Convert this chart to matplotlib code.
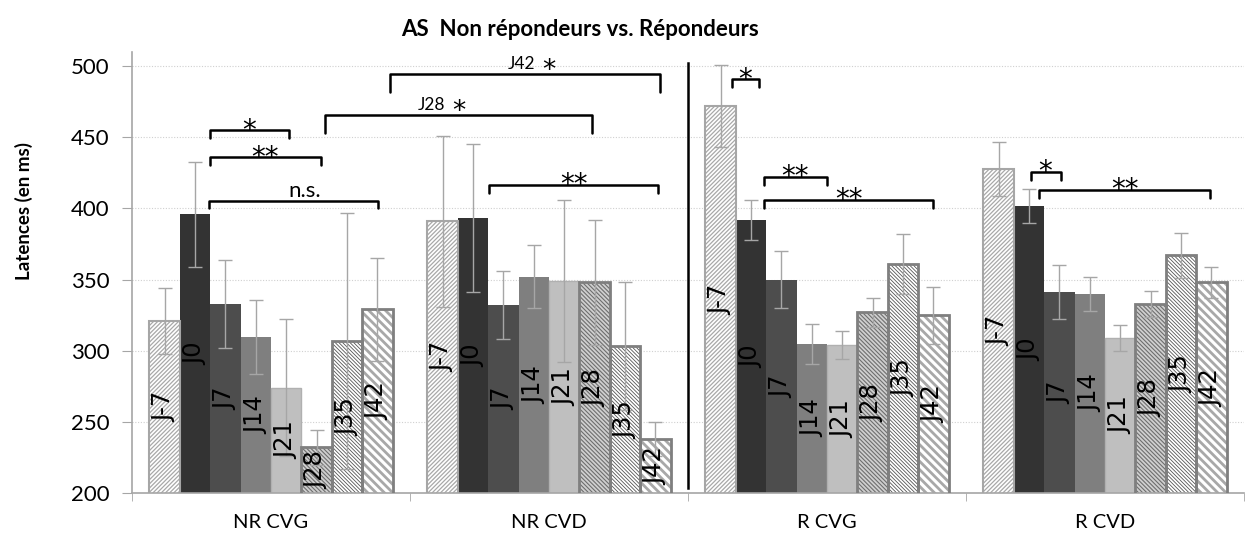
import matplotlib
matplotlib.use("Agg")
import matplotlib.pyplot as plt
import numpy as np

plt.rcParams['font.family'] = ['Lato', 'DejaVu Sans']

# ---- data ----
groups = ["NR CVG", "NR CVD", "R CVG", "R CVD"]
days = ["J-7", "J0", "J7", "J14", "J21", "J28", "J35", "J42"]

means_nr_cvg = [321, 396, 333, 310, 274, 232, 307, 329]
means_nr_cvd = [391, 393, 332, 352, 349, 348, 303, 238]
means_r_cvg = [472, 392, 350, 305, 304, 327, 361, 325]
means_r_cvd = [428, 402, 341, 340, 309, 333, 367, 348]

err_nr_cvg = [23, 37, 31, 26, 48, 12, 90, 36]
err_nr_cvd = [60, 52, 24, 22, 57, 44, 45, 12]
err_r_cvg = [29, 14, 20, 14, 10, 10, 21, 20]
err_r_cvd = [19, 12, 19, 12, 9, 9, 16, 11]

y_ticks = [200, 250, 300, 350, 400, 450, 500]

# significance brackets: start (group, position in bar widths), end, level, label
br_group_a = [0, 0, 0, 1, 2, 2, 2, 3, 3]
br_pos_a = [1.99, 1.99, 1.96, 2.03, 0.86, 1.92, 1.92, 1.55, 1.84]
br_pos_b = [4.59, 5.64, 7.52, 7.60, 1.75, 4.00, 7.50, 2.54, 7.46]
br_level = [455, 436, 405.6, 416.4, 490.8, 422.3, 405.9, 425.8, 412.9]
br_label = ["*", "**", "n.s.", "**", "*", "**", "**", "*", "**"]

# brackets linking the two NR groups
cross_group_a = [0, 0]
cross_pos_a = [5.76, 7.93]
cross_group_b = [1, 1]
cross_pos_b = [5.41, 7.64]
cross_level = [465.5, 494.4]
cross_day = ["J28", "J42"]
cross_label_dx = [-7, 9]

means = [means_nr_cvg, means_nr_cvd, means_r_cvg, means_r_cvd]
errs = [err_nr_cvg, err_nr_cvd, err_r_cvg, err_r_cvd]

# ---- styles per day ----
face = ['white', '#333333', '#4d4d4d', '#7f7f7f', '#bfbfbf', '#cfcfcf', 'white', 'white']
edge = ['#a6a6a6', '#333333', '#4d4d4d', '#7f7f7f', '#b0b0b0', '#7f7f7f', '#7f7f7f', '#7f7f7f']
hatch_col = ['#a8a8a8', None, None, None, None, '#6e6e6e', '#555555', '#a8a8a8']
hatches = ['/' * 8, None, None, None, None, '\\' * 8, '\\' * 9, '\\' * 4]
hatch_lw = [0.9, 1.0, 1.0, 1.0, 1.0, 0.8, 0.6, 2.0]
edge_lw = [1.5, 0, 0, 0, 1.0, 2.0, 2.0, 2.0]

W, H = 1245, 536
fig = plt.figure(figsize=(W / 100, H / 100), dpi=100)
ax = fig.add_axes([132 / W, 1 - 493 / H, (1244 - 132) / W, (493 - 52) / H])
ax.set_xlim(-0.5, 3.5)
ax.set_ylim(200, 510)

n = len(days)
span = 0.875
w = span / n


def bar_x(g, f):
    return g - span / 2 + w * f


for g in range(len(groups)):
    for k in range(n):
        xc = bar_x(g, k + 0.5)
        v = means[g][k]
        if hatches[k]:
            with plt.rc_context({'hatch.linewidth': hatch_lw[k]}):
                ax.bar(xc, v, width=w, bottom=0, color=face[k],
                       edgecolor=hatch_col[k], hatch=hatches[k],
                       linewidth=0, zorder=2)
            ax.bar(xc, v, width=w, bottom=0, fill=False,
                   edgecolor=edge[k], linewidth=edge_lw[k], zorder=3)
        else:
            ax.bar(xc, v, width=w, bottom=0, color=face[k],
                   edgecolor=edge[k], linewidth=edge_lw[k], zorder=2)
        ax.errorbar(xc, v, yerr=errs[g][k], fmt='none', ecolor='#a6a6a6',
                    elinewidth=1.0, capsize=5, capthick=1.0, zorder=4)
        ax.text(xc, (200 + v) / 2, days[k], rotation=90, ha='center',
                va='center', fontsize=17.5, family='DejaVu Sans',
                color='black', zorder=5)

# gridlines
for yt in y_ticks[1:]:
    ax.axhline(yt, color='#d0d0d0', linestyle=(0, (1, 1.5)), linewidth=0.8,
               zorder=1)

# spines and ticks
for s in ['top', 'right']:
    ax.spines[s].set_visible(False)
ax.spines['left'].set_color('#a6a6a6')
ax.spines['bottom'].set_color('#a6a6a6')
ax.spines['left'].set_linewidth(1.2)
ax.spines['bottom'].set_linewidth(1.2)
ax.set_yticks(y_ticks)
ax.tick_params(axis='y', length=7, color='#a6a6a6', labelsize=16, pad=9)
ax.set_xticks(range(len(groups)))
ax.set_xticklabels(groups)
ax.tick_params(axis='x', which='major', length=0, labelsize=14.5, pad=15)
ax.set_xticks(np.arange(-0.5, len(groups), 1.0), minor=True)
ax.tick_params(axis='x', which='minor', length=6, color='#a6a6a6')

fig.text(24 / W, 1 - 211 / H, "Latences (en ms)", rotation=90, ha='center',
         va='center', fontsize=13.5, fontweight='bold')
fig.text(580 / W, 1 - 30 / H, "AS  Non répondeurs vs. Répondeurs",
         ha='center', va='center', fontsize=16, fontweight='bold')

# separator between non-responders and responders
ax.plot([1.5, 1.5], [203.5, 502.6], color='black', linewidth=1.8,
        clip_on=False, zorder=6)


def bracket(x0, x1, y, d0, d1):
    ax.plot([x0, x0, x1, x1], [y - d0, y, y, y - d1], color='black',
            linewidth=1.8, solid_joinstyle='round', solid_capstyle='round',
            clip_on=False, zorder=6)


for ga, pa, pb, lv, lab in zip(br_group_a, br_pos_a, br_pos_b, br_level,
                               br_label):
    x0, x1 = bar_x(ga, pa), bar_x(ga, pb)
    bracket(x0, x1, lv, 5.5, 5.5)
    xm = (x0 + x1) / 2
    if lab.startswith('*'):
        ax.annotate(lab, (xm, lv), xytext=(0, -6), textcoords='offset points',
                    ha='center', va='baseline', fontsize=20,
                    family='DejaVu Sans', annotation_clip=False)
    else:
        ax.annotate(lab, (xm + 0.04, lv), xytext=(0, 2.5),
                    textcoords='offset points', ha='center', va='baseline',
                    fontsize=16, annotation_clip=False)

for ga, pa, gb, pb, lv, day, dx in zip(cross_group_a, cross_pos_a,
                                       cross_group_b, cross_pos_b,
                                       cross_level, cross_day, cross_label_dx):
    x0, x1 = bar_x(ga, pa), bar_x(gb, pb)
    bracket(x0, x1, lv, 12.5, 12.5)
    xm = (x0 + x1) / 2
    ax.annotate(day, (xm, lv), xytext=(dx - 2, 4), textcoords='offset points',
                ha='right', va='baseline', fontsize=12.5,
                annotation_clip=False)
    ax.annotate("*", (xm, lv), xytext=(dx + 3, -3), textcoords='offset points',
                ha='left', va='baseline', fontsize=19, family='DejaVu Sans',
                annotation_clip=False)

fig.savefig("out.png", dpi=100)
